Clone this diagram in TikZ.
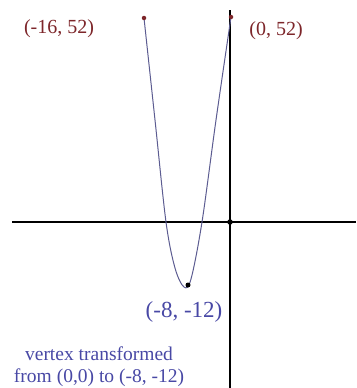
\documentclass[tikz,border=0pt]{standalone}
\usepackage{fontspec}
\setmainfont{Liberation Serif}
\definecolor{ptred}{RGB}{125,38,42}
\definecolor{txtblue}{RGB}{72,72,165}
\definecolor{curveblue}{RGB}{92,92,145}

\begin{document}
\begin{tikzpicture}[x=1pt, y=-1pt,
  dot/.style={circle, fill, inner sep=0pt, minimum size=4.5pt},
  redlbl/.style={text=ptred, font=\fontsize{20}{22}\selectfont},
  bluelbl/.style={text=txtblue, font=\fontsize{23}{25}\selectfont},
  note/.style={text=txtblue, align=center, font=\fontsize{19.5}{22}\selectfont}]
  \useasboundingbox (0,0) rectangle (356,388);

  % Axes
  \coordinate (xl) at (12,222);
  \coordinate (xr) at (356,222);
  \coordinate (yt) at (230,10);
  \coordinate (yb) at (230,388);
  \draw[line width=1.3pt] (xl) -- (xr);
  \draw[line width=1.3pt] (yt) -- (yb);

  % Parabola
  \draw[curveblue, line width=1pt] plot[smooth, tension=0.55] coordinates {
    (144,18) (155,120) (166,222) (175,268) (184,287)
    (191,279) (202,222) (216,120) (231,17)};

  % Points
  \node[dot, fill=ptred] (pl) at (144,18) {};
  \node[dot, fill=ptred] (pr) at (231,17) {};
  \node[dot, fill=black, minimum size=5pt] (vx) at (188,285) {};
  \node[dot, fill=black, minimum size=5.5pt] (org) at (230,222) {};

  % Labels
  \node[redlbl] (lpl) at (59,29) {(-16, 52)};
  \node[redlbl] (lpr) at (276,31) {(0, 52)};
  \node[bluelbl] (lvx) at (184,312) {(-8, -12)};
  \node[note] (txt) at (99,367) {vertex transformed\\from (0,0) to (-8, -12)};
\end{tikzpicture}
\end{document}
